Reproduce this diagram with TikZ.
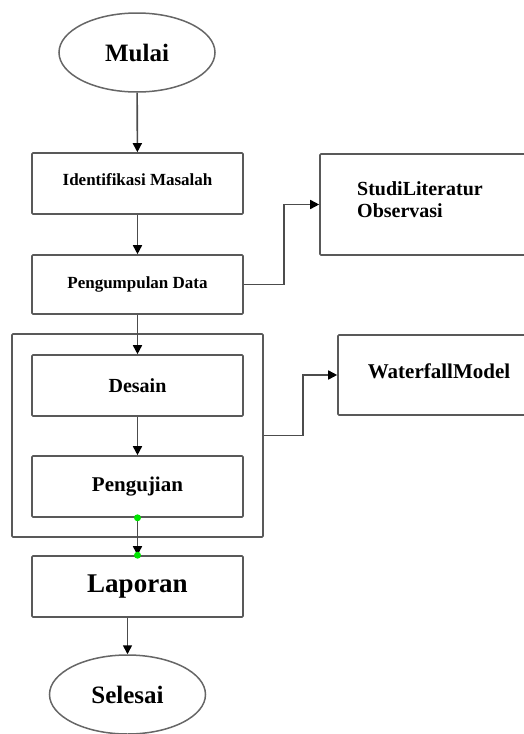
\documentclass[tikz,border=0pt]{standalone}
\usepackage{fontspec}
\setmainfont{Liberation Serif}
\usetikzlibrary{arrows.meta,shapes.geometric}
\tikzset{
  box/.style={draw=black!65, line width=1.6pt, rounded corners=1pt, fill=white,
    minimum width=211pt, minimum height=61pt, inner sep=0pt, font=\bfseries},
  term/.style={draw=black!60, line width=1.5pt, ellipse, fill=white,
    minimum width=156pt, minimum height=79pt, inner sep=0pt, font=\bfseries},
  arr/.style={draw=black!70, line width=1.6pt, -{Triangle[length=9pt,width=9pt,color=black]}},
  dot/.style={fill=green!90!black}
}
\newcommand{\fsz}[2]{\fontsize{#1}{#2}\selectfont}
\begin{document}
\begin{tikzpicture}[x=1pt,y=-1pt]
\useasboundingbox (0,0) rectangle (523,734);

% alur utama
\node[term] (mulai) at (137,52.5) {\fsz{25pt}{30pt}Mulai};
\node[box] (identifikasi) at (137.5,183.5) {\fsz{17pt}{20pt}\raisebox{8pt}{Identifikasi Masalah}};
\node[box, minimum height=59pt] (pengumpulan) at (137.5,284.5) {\fsz{17pt}{20pt}Pengumpulan Data};

% tahap pengembangan
\node[draw=black!65, line width=1.6pt, rounded corners=1pt, minimum width=251pt,
  minimum height=203pt, inner sep=0pt] (tahap) at (137.5,435.5) {};
\node[box] (desain) at (137.5,385.5) {\fsz{20pt}{24pt}Desain};
\node[box] (pengujian) at (137.5,486.5) {\fsz{21pt}{25pt}Pengujian};

\node[box] (laporan) at (137.5,586.5) {\fsz{27pt}{32pt}Laporan};
\node[term] (selesai) at (127.5,694.5) {\fsz{25pt}{30pt}Selesai};

% kotak samping
\node[box, minimum width=220pt, minimum height=101pt] (studi) at (430,204.5) {};
\node[anchor=north west, inner sep=0pt, align=left, font=\bfseries\fsz{20pt}{22pt}]
  (studiteks) at (357,181) {StudiLiteratur\\Observasi};
\node[box, minimum width=202pt, minimum height=80pt] (waterfall) at (439,375)
  {\fsz{21pt}{25pt}\raisebox{8pt}{WaterfallModel}};

% panah
\draw[arr] (mulai) -- (identifikasi);
\draw[arr] (identifikasi) -- (pengumpulan);
\draw[arr] (pengumpulan) -- (desain);
\draw[arr] (desain) -- (pengujian);
\draw[arr] (pengujian) -- (laporan);
\draw[arr] (laporan.south -| selesai.north) -- (selesai.north);
\draw[arr] (pengumpulan.east) -- ++(40,0) |- (studi.west);
\draw[arr] (tahap.east) -- ++(39,0) |- (waterfall.west);

\fill[dot] (pengujian.south) circle[radius=3.5pt];
\fill[dot] (laporan.north) circle[radius=3.5pt];
\end{tikzpicture}
\end{document}
